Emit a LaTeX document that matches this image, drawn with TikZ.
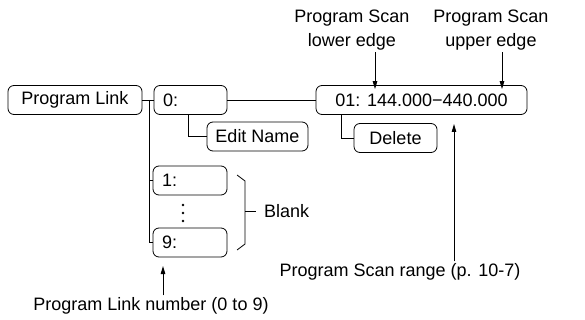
\documentclass[tikz,border=0pt]{standalone}
\usepackage{fontspec}
\setmainfont{Liberation Sans}
\usetikzlibrary{arrows.meta}
\begin{document}
\begin{tikzpicture}[x=1pt,y=-1pt,
  every node/.style={font=\fontsize{18}{24}\selectfont},
  box/.style={draw,rounded corners=6pt,line width=0.8pt,minimum height=29pt,inner sep=0pt},
  lbox/.style={box,text width=#1,align=left,inner xsep=9pt},
  wire/.style={line width=0.8pt},
  arr/.style={line width=0.9pt,-{Triangle[length=8pt,width=4.5pt]}}]
\useasboundingbox (0,0) rectangle (585,320);
% boxes
\node[box,minimum width=134pt] (pl) at (75,100) {Program Link};
\node[lbox=55pt] (b0) at (190.5,100) {0:};
\node[box,minimum width=101pt] (en) at (257.5,136.5) {Edit Name};
\node[box,minimum width=211pt] (b01) at (421.5,100) {01: 144.000−440.000};
\node[box,minimum width=83pt] (del) at (395.5,138) {Delete};
\node[lbox=56pt] (b1) at (190,180.5) {1:};
\node[lbox=56pt] (b9) at (190,242.5) {9:};
% tree wires
\coordinate (j) at (149,100);
\draw[wire] (pl.east) -- (b0.west);
\draw[wire] (j) |- (b9.west);
\draw[wire] (j |- b1.west) -- (b1.west);
\draw[wire] ([xshift=35pt]b0.south west) |- (en.west);
\draw[wire] (b0.east) -- (b01.west);
\draw[wire] ([xshift=26pt]b01.south west) |- (del.west);
% dots
\foreach \yy in {205,213,221} \fill (183,\yy) circle (1.4pt);
% brace
\coordinate (bt) at (237,175);
\coordinate (bb) at (237,250);
\coordinate (bm) at (245,211);
\coordinate (bx) at (256,211);
\draw[wire] (bt) -- (245,181) -- (245,244) -- (bb);
\draw[wire] (bm) -- (bx);
\node[anchor=west,inner sep=0pt] (blank) at (264,211) {Blank};
% labels
\node[align=center,inner sep=0pt] (lo) at (352,30) {Program Scan\\lower edge};
\node[align=center,inner sep=0pt] (up) at (491,30) {Program Scan\\upper edge};
\draw[arr] ([xshift=23pt,yshift=-2pt]lo.south) -- ([xshift=23pt,yshift=-4pt]lo.south |- b01.north);
\draw[arr] ([xshift=11pt,yshift=-2pt]up.south) -- ([xshift=11pt,yshift=-4pt]up.south |- b01.north);
\node[inner sep=0pt] (rg) at (400,272) {Program Scan range (p. 10-7)};
\draw[arr] ([xshift=54pt,yshift=2pt]rg.north) -- ([xshift=54pt]rg.north |- 0,124);
\node[inner sep=0pt] (num) at (151,306) {Program Link number (0 to 9)};
\draw[arr] ([xshift=12pt,yshift=2pt]num.north) -- ([xshift=12pt]num.north |- 0,266);
\end{tikzpicture}
\end{document}
